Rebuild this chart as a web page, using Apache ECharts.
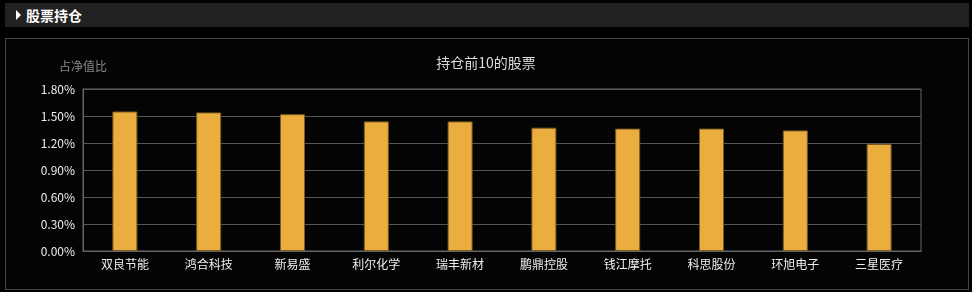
<!DOCTYPE html>
<html><head><meta charset="utf-8">
<script src="https://cdn.jsdelivr.net/npm/echarts@6/dist/echarts.min.js"></script>
<style>
html,body{margin:0;padding:0;background:#000;width:972px;height:292px;overflow:hidden;font-family:"Noto Sans CJK SC","Noto Sans",sans-serif;}
#hdr{position:absolute;left:5px;top:3px;width:964px;height:24px;background:#222;}
#hdr .tri{position:absolute;left:11px;top:7px;width:0;height:0;border-top:5px solid transparent;border-bottom:5px solid transparent;border-left:5px solid #fff;}
#hdr .t{position:absolute;left:21px;top:0;line-height:24px;color:#fff;font-weight:bold;font-size:14px;}
#panel{position:absolute;left:5px;top:38px;width:962px;height:250px;border:1px solid #444;background:#040404;}
#c{position:absolute;left:0;top:0;width:972px;height:292px;}
</style></head>
<body>
<div id="hdr"><div class="tri"></div><div class="t">股票持仓</div></div>
<div id="panel"></div>
<div id="c"></div>
<script>
const categories = ['双良节能','鸿合科技','新易盛','利尔化学','瑞丰新材','鹏鼎控股','钱江摩托','科思股份','环旭电子','三星医疗'];
const values = [1.55, 1.54, 1.52, 1.44, 1.44, 1.37, 1.36, 1.36, 1.34, 1.19];
const yTicks = [0, 0.3, 0.6, 0.9, 1.2, 1.5, 1.8];
const font = '"Noto Sans CJK SC","Noto Sans",sans-serif';
const chart = echarts.init(document.getElementById('c'), null, {renderer:'canvas'});
chart.setOption({
  backgroundColor: 'transparent',
  animation: false,
  textStyle: {fontFamily: font},
  title: {text: '持仓前10的股票', left: 'center', top: 51, textStyle: {color: '#ddd', fontSize: 14, fontWeight: 'normal', fontFamily: font}},
  grid: {left: 83, right: 51, top: 89, bottom: 41, show: true, borderColor: '#666', borderWidth: 1},
  xAxis: {
    type: 'category', data: categories,
    axisLine: {lineStyle: {color: '#666'}},
    axisTick: {show: false},
    axisLabel: {color: '#eee', fontSize: 12, margin: 7, fontFamily: font}
  },
  yAxis: {
    type: 'value', min: yTicks[0], max: yTicks[yTicks.length-1], interval: 0.3,
    name: '占净值比', nameLocation: 'end', nameGap: 17,
    nameTextStyle: {color: '#888', fontSize: 12, align: 'center', fontFamily: font},
    axisLine: {show: true, lineStyle: {color: '#666'}},
    axisTick: {show: false},
    splitLine: {lineStyle: {color: '#555'}},
    axisLabel: {color: '#eee', fontSize: 12, margin: 8, fontFamily: font, formatter: v => v.toFixed(2) + '%'}
  },
  series: [{
    type: 'bar', data: values, barWidth: 25,
    itemStyle: {color: '#ebae3e', borderColor: '#7a5b22', borderWidth: 1}
  }]
});
</script>
</body></html>
